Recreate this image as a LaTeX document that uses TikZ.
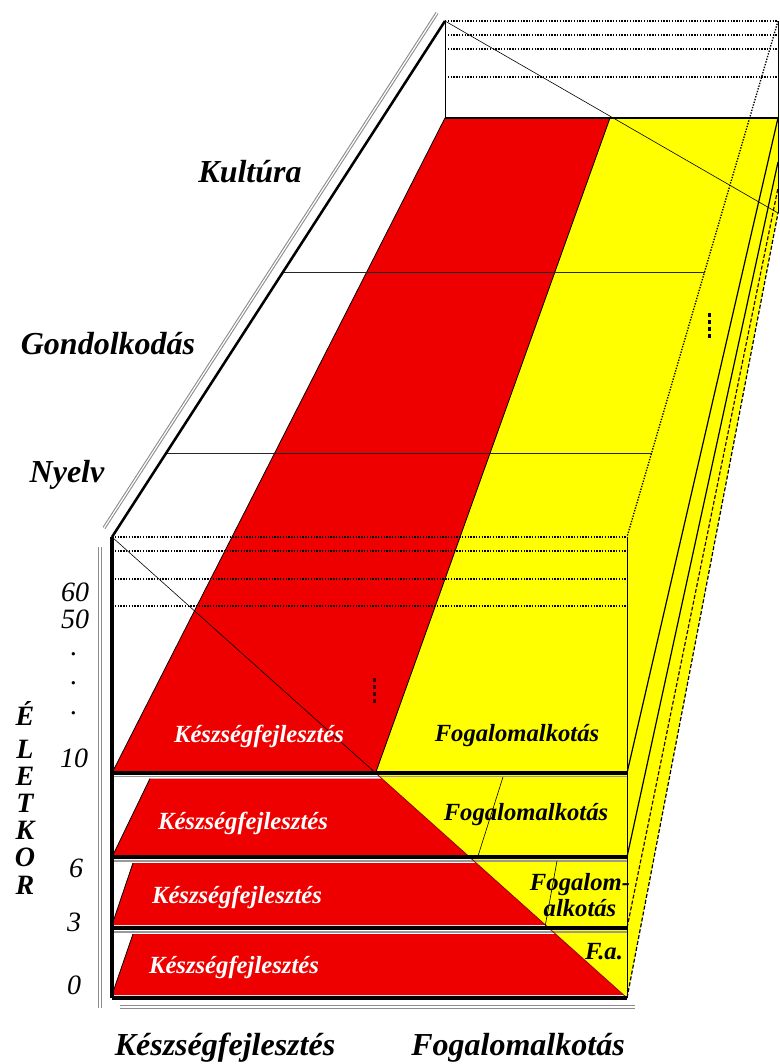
\documentclass[tikz,border=0pt]{standalone}
\usepackage{fontspec}
\setmainfont{Liberation Serif}
\usetikzlibrary{calc}
\definecolor{myred}{RGB}{238,0,0}
\definecolor{myyel}{RGB}{255,255,0}
\begin{document}
\begin{tikzpicture}[x=0.75pt,y=-0.75pt,
  slabline/.style={line width=2.3pt},
  boxedge/.style={line width=1.9pt},
  thinl/.style={line width=0.6pt},
  hairl/.style={line width=0.45pt},
  dotl/.style={line width=1pt,dash pattern=on 1pt off 1.1pt},
  dashl/.style={line width=0.9pt,dash pattern=on 3pt off 1.5pt},
  grayrule/.style={draw=black!45,double=white,line width=0.8pt,double distance=0.9pt},
  shadowl/.style={draw=black!40,line width=1pt},
  scr/.style={font=\fontsize{24}{24}\selectfont\bfseries\itshape,inner sep=0pt},
  scrl/.style={font=\fontsize{21}{21}\selectfont\bfseries\itshape,inner sep=0pt},
  inw/.style={font=\fontsize{18.5}{19.5}\selectfont\bfseries\itshape,inner sep=0pt,text=white},
  inb/.style={font=\fontsize{18.5}{19.5}\selectfont\bfseries\itshape,inner sep=0pt,text=black,align=center},
  num/.style={font=\fontsize{21}{21}\selectfont\itshape,inner sep=0pt}]
\useasboundingbox (0,0) rectangle (779,1064);
\fill[white] (0,0) rectangle (779,1064);

% key points
\coordinate (BTL) at (445,21);
\coordinate (BTR) at (778,21);
\coordinate (BBL) at (445,118);
\coordinate (BBR) at (778,118);
\coordinate (BS) at (610,118);
\coordinate (FTL) at (112,537);
\coordinate (FTR) at (627,537);
\coordinate (S10L) at (112,773);
\coordinate (S10M) at (375.6,773);
\coordinate (S10R) at (627,773);
\coordinate (S6L) at (112,857);
\coordinate (S6R) at (627,857);
\coordinate (S3L) at (112,928);
\coordinate (S3R) at (627,928);
\coordinate (S0L) at (112,998);
\coordinate (S0R) at (627,998);
\coordinate (R2) at (778,162);
\coordinate (R3) at (778,188);
\coordinate (R4) at (778,213);
\coordinate (G1) at ($(FTL)!0.5136!(BTL)$);
\coordinate (G2) at ($(FTR)!0.5136!(BTR)$);
\coordinate (N1) at ($(FTL)!0.1628!(BTL)$);
\coordinate (N2) at ($(FTR)!0.1628!(BTR)$);
\coordinate (GA1) at (104,528);
\coordinate (GA2) at (437,13);
\coordinate (GV1) at (100,547);
\coordinate (GV2) at (100,1008);
\coordinate (GH1) at (120,1007);
\coordinate (GH2) at (635,1007);

% yellow and red surfaces
\fill[myyel] (S10M) -- (BS) -- (BBR) -- (R4) -- (S0R) -- cycle;
\filldraw[fill=myred,draw=black,thinl] (S10L) -- (S10M) -- (BS) -- (BBL) -- cycle;

% shadow lines under the layer rules
\draw[shadowl] (112,776.5) -- (627,776.5);
\draw[shadowl] (112,861) -- (627,861);
\draw[shadowl] (112,932) -- (627,932);

% lower red layers
\fill[myred] (150,778.5) -- (381.8,778.5) -- (467.3,855) -- (113,855) -- cycle;
\fill[myred] (133,863) -- (476.2,863) -- (545.5,925) -- (112,925) -- cycle;
\fill[myred] (133,934) -- (555.5,934) -- (623.6,995) -- (112,995) -- cycle;
\draw[thinl] (150,778.5) -- (113,855);
\draw[thinl] (133,863) -- (112,925);
\draw[thinl] (133,934) -- (112,995);
\draw[line width=0.6pt,draw=red!60!black] (S10M) -- (S0R);

% thin slanted lines in the yellow of lower layers
\draw[hairl] (503,777) -- (478,856);
\draw[hairl] (557,861) -- (545,927);

% right edges of the stacked yellow layers
\draw[line width=0.9pt] (S10R) -- (BBR);
\draw[line width=0.9pt] (S6R) -- (R2);
\draw[dashl,draw=black!80!red] (S3R) -- (R3);
\draw[dashl] (S0R) -- (R4);

% box: back face
\draw[thinl] (BTL) -- (BBL);
\draw[thinl] (BTR) -- (R4);
\draw[line width=1.5pt] (BBL) -- (BBR);
\foreach \yy in {21,35,49,77}
  \draw[dotl] (445,\yy) -- (778,\yy);
\draw[dotl] (BTR) -- (FTR);
\draw[hairl] (BTL) -- (R4);

% front face dotted levels
\foreach \yy in {537,551,579,606}
  \draw[dotl] (112,\yy) -- (627,\yy);
\draw[hairl] (FTL) -- (S10M);
\draw[thinl] (FTR) -- (S0R);

% level lines
\draw[thinl,draw=black!85] (G1) -- (G2);
\draw[thinl,draw=black!85] (N1) -- (N2);

% vertical ellipsis marks
\foreach \yy in {678,685,692,699}
  \fill[black!75!red] (372.5,\yy) rectangle (375.5,\yy+4);
\foreach \yy in {313,320,327,334}
  \fill[black] (707.5,\yy) rectangle (710.5,\yy+4);

% layer rules and box edges
\draw[slabline] (S10L) -- (S10R);
\draw[slabline] (S6L) -- (S6R);
\draw[slabline] (S3L) -- (S3R);
\draw[slabline] (S0L) -- (S0R);
\draw[slabline] (FTL) -- (S0L);
\draw[boxedge] (FTL) -- (BTL);

% gray double rules
\draw[grayrule] (GA1) -- (GA2);
\draw[grayrule] (GV1) -- (GV2);
\draw[grayrule] (GH1) -- (GH2);

% labels
\node[scr] (kul) at (250,172) {Kultúra};
\node[scr] (gon) at (108,344) {Gondolkodás};
\node[scr] (nye) at (67,475) {Nyelv};
\foreach \ch/\yy [count=\i] in {É/713,L/749,E/776,T/803,K/830,O/857,R/885}
  \node[scrl] (el\i) at (25,\yy) {\ch};

\node[num] (n60) at (75,592) {60};
\node[num] (n50) at (75,619) {50};
\node[num] (d1) at (74,654) {.};
\node[num] (d2) at (74,683) {.};
\node[num] (d3) at (74,713) {.};
\node[num] (n10) at (74,758) {10};
\node[num] (n6) at (76,868) {6};
\node[num] (n3) at (74,922) {3};
\node[num] (n0) at (74,985) {0};

\node[inw] (k10) at (259,736) {Készségfejlesztés};
\node[inw] (k6) at (243,823) {Készségfejlesztés};
\node[inw] (k3) at (237,897) {Készségfejlesztés};
\node[inw] (k0) at (234,967) {Készségfejlesztés};

\node[inb] (f10) at (517,736) {Fogalomalkotás};
\node[inb] (f6) at (526,815) {Fogalomalkotás};
\node[inb] (f3) at (580,895) {Fogalom-\\alkotás};
\node[inb] (f0) at (604,952) {F.a.};

\node[scr] (bk) at (225,1048) {Készségfejlesztés};
\node[scr] (bf) at (518,1048) {Fogalomalkotás};
\end{tikzpicture}
\end{document}
